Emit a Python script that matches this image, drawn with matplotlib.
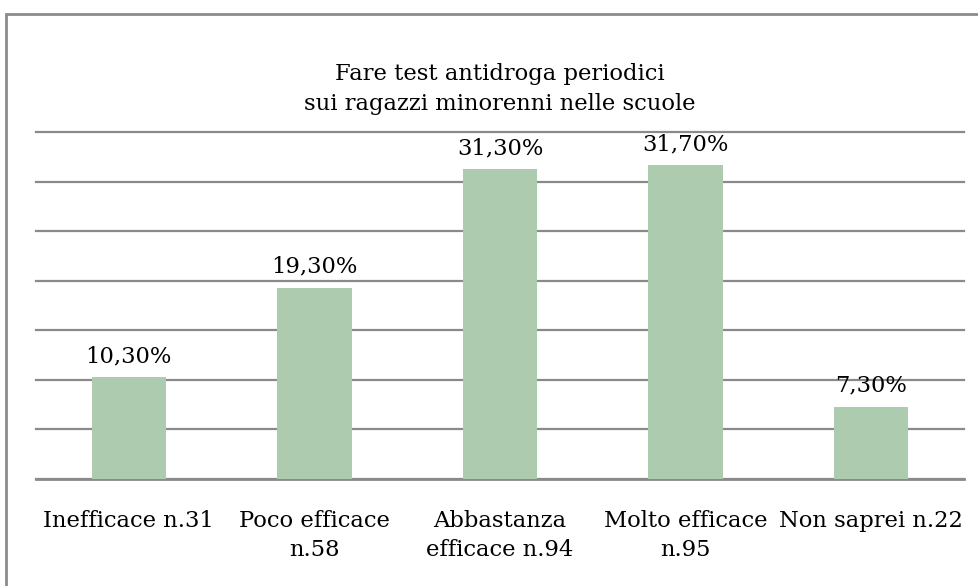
import matplotlib
matplotlib.use("Agg")
import matplotlib.pyplot as plt
from matplotlib.patches import Rectangle

categories = ["Inefficace n.31", "Poco efficace\nn.58", "Abbastanza\nefficace n.94",
              "Molto efficace\nn.95", "Non saprei n.22"]
values = [10.3, 19.3, 31.3, 31.7, 7.3]
value_labels = ["10,30%", "19,30%", "31,30%", "31,70%", "7,30%"]
title = "Fare test antidroga periodici\nsui ragazzi minorenni nelle scuole"

W, H = 979, 586
fig = plt.figure(figsize=(W / 100, H / 100), dpi=100)
plt.rcParams['font.family'] = ['DejaVu Serif']
FS = 16.3

# outer border
fig.patches.append(Rectangle((6 / W, -0.05), 1.2, 1 - 14 / H + 0.05, transform=fig.transFigure,
                             fill=False, edgecolor="#8c8c8c", linewidth=2))

ax = fig.add_axes([36 / W, 1 - 479 / H, (964 - 36) / W, (479 - 132) / H])
x = list(range(len(categories)))
ax.bar(x, values, width=0.4, color="#adcbaf", zorder=3)
ax.set_xlim(-0.5, len(categories) - 0.5)
ax.set_ylim(0, 35)
ax.set_yticks(range(0, 36, 5))
ax.yaxis.grid(True, color="#8a8a8a", linewidth=1.6, zorder=0)
for gl in ax.yaxis.get_gridlines():
    gl.set_clip_on(False)
ax.tick_params(axis="y", left=False, labelleft=False)
ax.tick_params(axis="x", bottom=False, pad=19)
ax.set_xticks(x)
ax.set_xticklabels(categories, fontsize=FS, linespacing=1.4)
for s in ["top", "right", "left"]:
    ax.spines[s].set_visible(False)
ax.spines["bottom"].set_color("#8a8a8a")
ax.spines["bottom"].set_linewidth(2)

for xi, v, lab in zip(x, values, value_labels):
    ax.annotate(lab, (xi, v), xytext=(0, 7), textcoords="offset points",
                ha="center", va="bottom", fontsize=FS)

fig.text(500 / W, 1 - 89 / H, title, ha="center", va="center", fontsize=FS, linespacing=1.45)

fig.savefig("out.png", dpi=100)
